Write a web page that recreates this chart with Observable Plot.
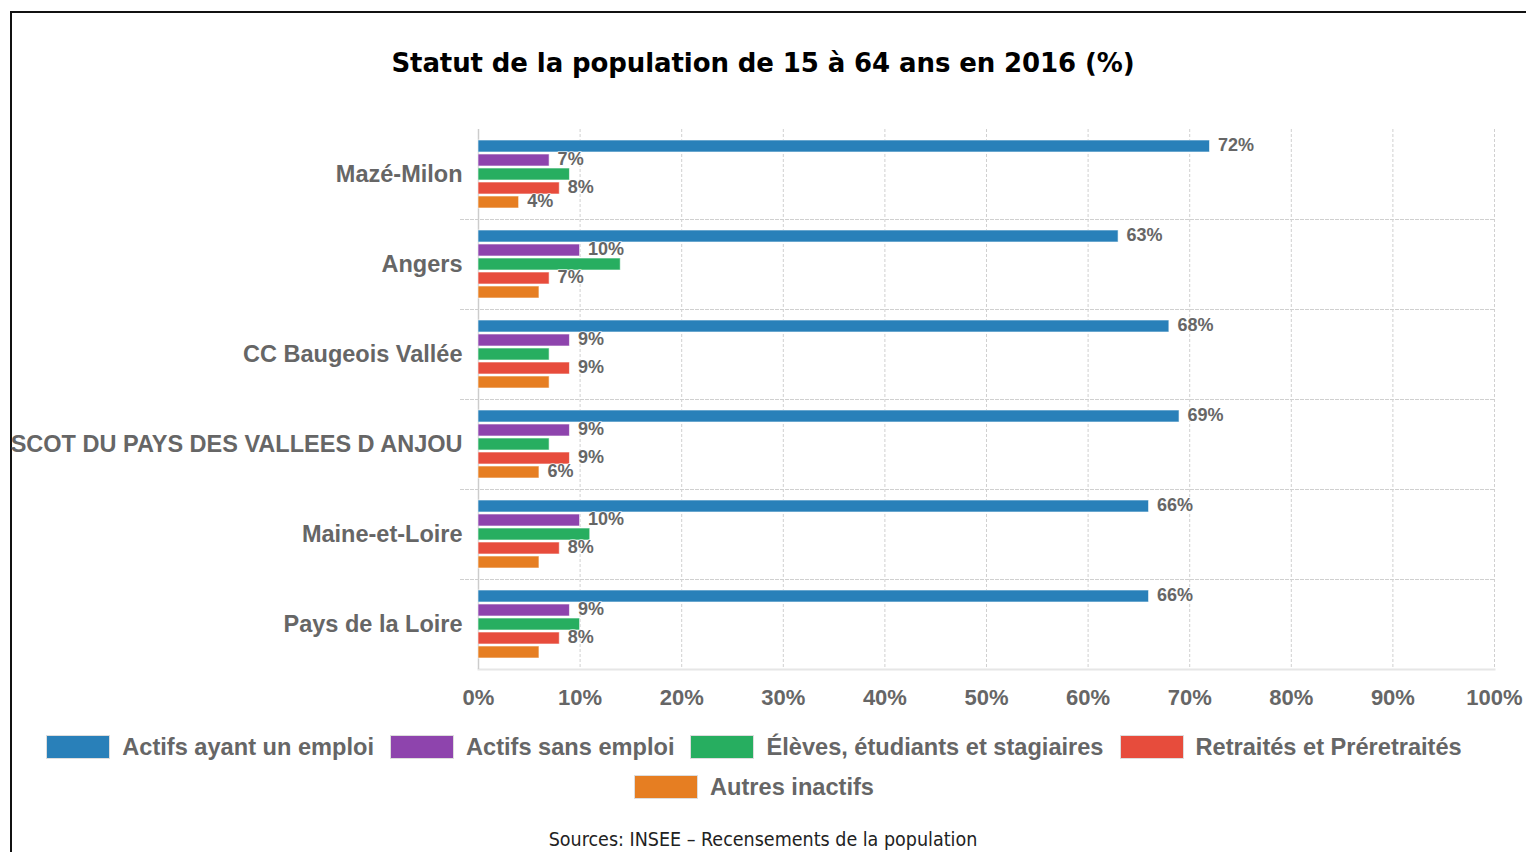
<!DOCTYPE html>
<html>
<head>
<meta charset="utf-8">
<script src="https://cdn.jsdelivr.net/npm/d3@7"></script>
<script src="https://cdn.jsdelivr.net/npm/@observablehq/plot@0.6"></script>
<style>
  html, body { margin: 0; padding: 0; background: #fff; width: 1526px; height: 852px; overflow: hidden; }
  #frame { position: absolute; left: 10px; top: 11px; width: 1540px; height: 880px; border: 2px solid #111; box-sizing: border-box; }
  #title { position: absolute; left: 0; width: 1526px; top: 48px; text-align: center; font-family: "DejaVu Sans", sans-serif; font-weight: bold; font-size: 26px; letter-spacing: -0.1px; color: #000; }
  #chart { position: absolute; left: 0; top: 100px; }
  #legend { position: absolute; left: 40px; width: 1428px; top: 734px; display: flex; flex-wrap: wrap; justify-content: center; row-gap: 14px; column-gap: 16px;
            font-family: "Liberation Sans", Arial, sans-serif; font-weight: bold; font-size: 23.6px; color: #666; }
  .item { display: flex; align-items: center; gap: 12px; height: 26px; }
  .sw { width: 62px; height: 22px; border: 1px solid #ddd; }
  #source { position: absolute; left: 0; width: 1526px; top: 828px; text-align: center; font-family: "DejaVu Sans Condensed", "DejaVu Sans", sans-serif; font-stretch: condensed; font-size: 19.5px; color: #222; }
</style>
</head>
<body>
<div id="frame"></div>
<div id="title">Statut de la population de 15 à 64 ans en 2016 (%)</div>
<div id="chart"></div>
<div id="legend"></div>
<div id="source">Sources: INSEE – Recensements de la population</div>
<script>
const categories = ["Mazé-Milon", "Angers", "CC Baugeois Vallée", "SCOT DU PAYS DES VALLEES D ANJOU", "Maine-et-Loire", "Pays de la Loire"];
const series = ["Actifs ayant un emploi", "Actifs sans emploi", "Élèves, étudiants et stagiaires", "Retraités et Préretraités", "Autres inactifs"];
const colors = ["#2980b9", "#8e44ad", "#27ae60", "#e74c3c", "#e67e22"];
const actifsEmploi   = [72, 63, 68, 69, 66, 66];
const actifsSans     = [7, 10, 9, 9, 10, 9];
const eleves         = [9, 14, 7, 7, 11, 10];
const retraites      = [8, 7, 9, 9, 8, 8];
const autres         = [4, 6, 7, 6, 6, 6];
// which value labels are displayed (others hidden in the original because of overlap)
const labelShown = [
  [true, true, true, true, true, true],
  [true, true, true, true, true, true],
  [false, false, false, false, false, false],
  [true, true, true, true, true, true],
  [true, false, false, true, false, false]
];
const xTicks = [0, 10, 20, 30, 40, 50, 60, 70, 80, 90, 100];

const values = [actifsEmploi, actifsSans, eleves, retraites, autres];
const data = [];
categories.forEach((c, i) => series.forEach((s, j) => data.push({category: c, series: s, value: values[j][i], shown: labelShown[j][i]})));

const font = "Liberation Sans, Arial, sans-serif";
const chart = Plot.plot({
  width: 1526,
  height: 620,
  marginLeft: 478,
  marginRight: 32,
  marginTop: 28,
  marginBottom: 50,
  style: {fontFamily: font, background: "transparent", overflow: "visible"},
  x: {domain: [0, 100], axis: null},
  y: {domain: series, paddingInner: 0.13, paddingOuter: 0.72, axis: null},
  fy: {domain: categories, padding: 0, axis: null},
  color: {domain: series, range: colors},
  marks: [
    Plot.gridX(xTicks.slice(1), {stroke: "#d0d0d0", strokeOpacity: 1, strokeDasharray: "3,2"}),
    ...categories.slice(1).map(c => Plot.frame({anchor: "top", fy: () => c, stroke: "#d0d0d0", strokeOpacity: 1, strokeDasharray: "3,2", insetLeft: -18})),
    Plot.frame({anchor: "bottom", fy: () => categories[categories.length - 1], stroke: "#e6e6e6", strokeOpacity: 1, strokeWidth: 2}),
    Plot.ruleX([0], {stroke: "#cccccc", strokeWidth: 1.5}),
    Plot.barX(data, {x: "value", y: "series", fy: "category", fill: "series", stroke: "#ffffff", strokeWidth: 1, strokeOpacity: 0.6}),
    Plot.text(data.filter(d => d.shown), {x: "value", y: "series", fy: "category", text: d => d.value + "%", dx: 8, dy: -1, textAnchor: "start",
      fill: "#666", fontWeight: "bold", fontSize: 18, stroke: "#fff", strokeWidth: 1.5, strokeOpacity: 0.7}),
    Plot.axisFy({anchor: "left", tickSize: 0, tickPadding: 16, label: null, fontSize: 23.5, fontWeight: "bold", fill: "#666"}),
    Plot.axisX(xTicks, {anchor: "bottom", tickSize: 0, tickPadding: 20, tickFormat: d => d + "%", label: null, fontSize: 22, fontWeight: "bold", fill: "#666"})
  ]
});
document.getElementById("chart").appendChild(chart);

const legend = document.getElementById("legend");
series.forEach((s, j) => {
  const it = document.createElement("div");
  it.className = "item";
  const sw = document.createElement("div");
  sw.className = "sw";
  sw.style.background = colors[j];
  const t = document.createElement("span");
  t.textContent = s;
  it.appendChild(sw); it.appendChild(t);
  legend.appendChild(it);
});
</script>
</body>
</html>
